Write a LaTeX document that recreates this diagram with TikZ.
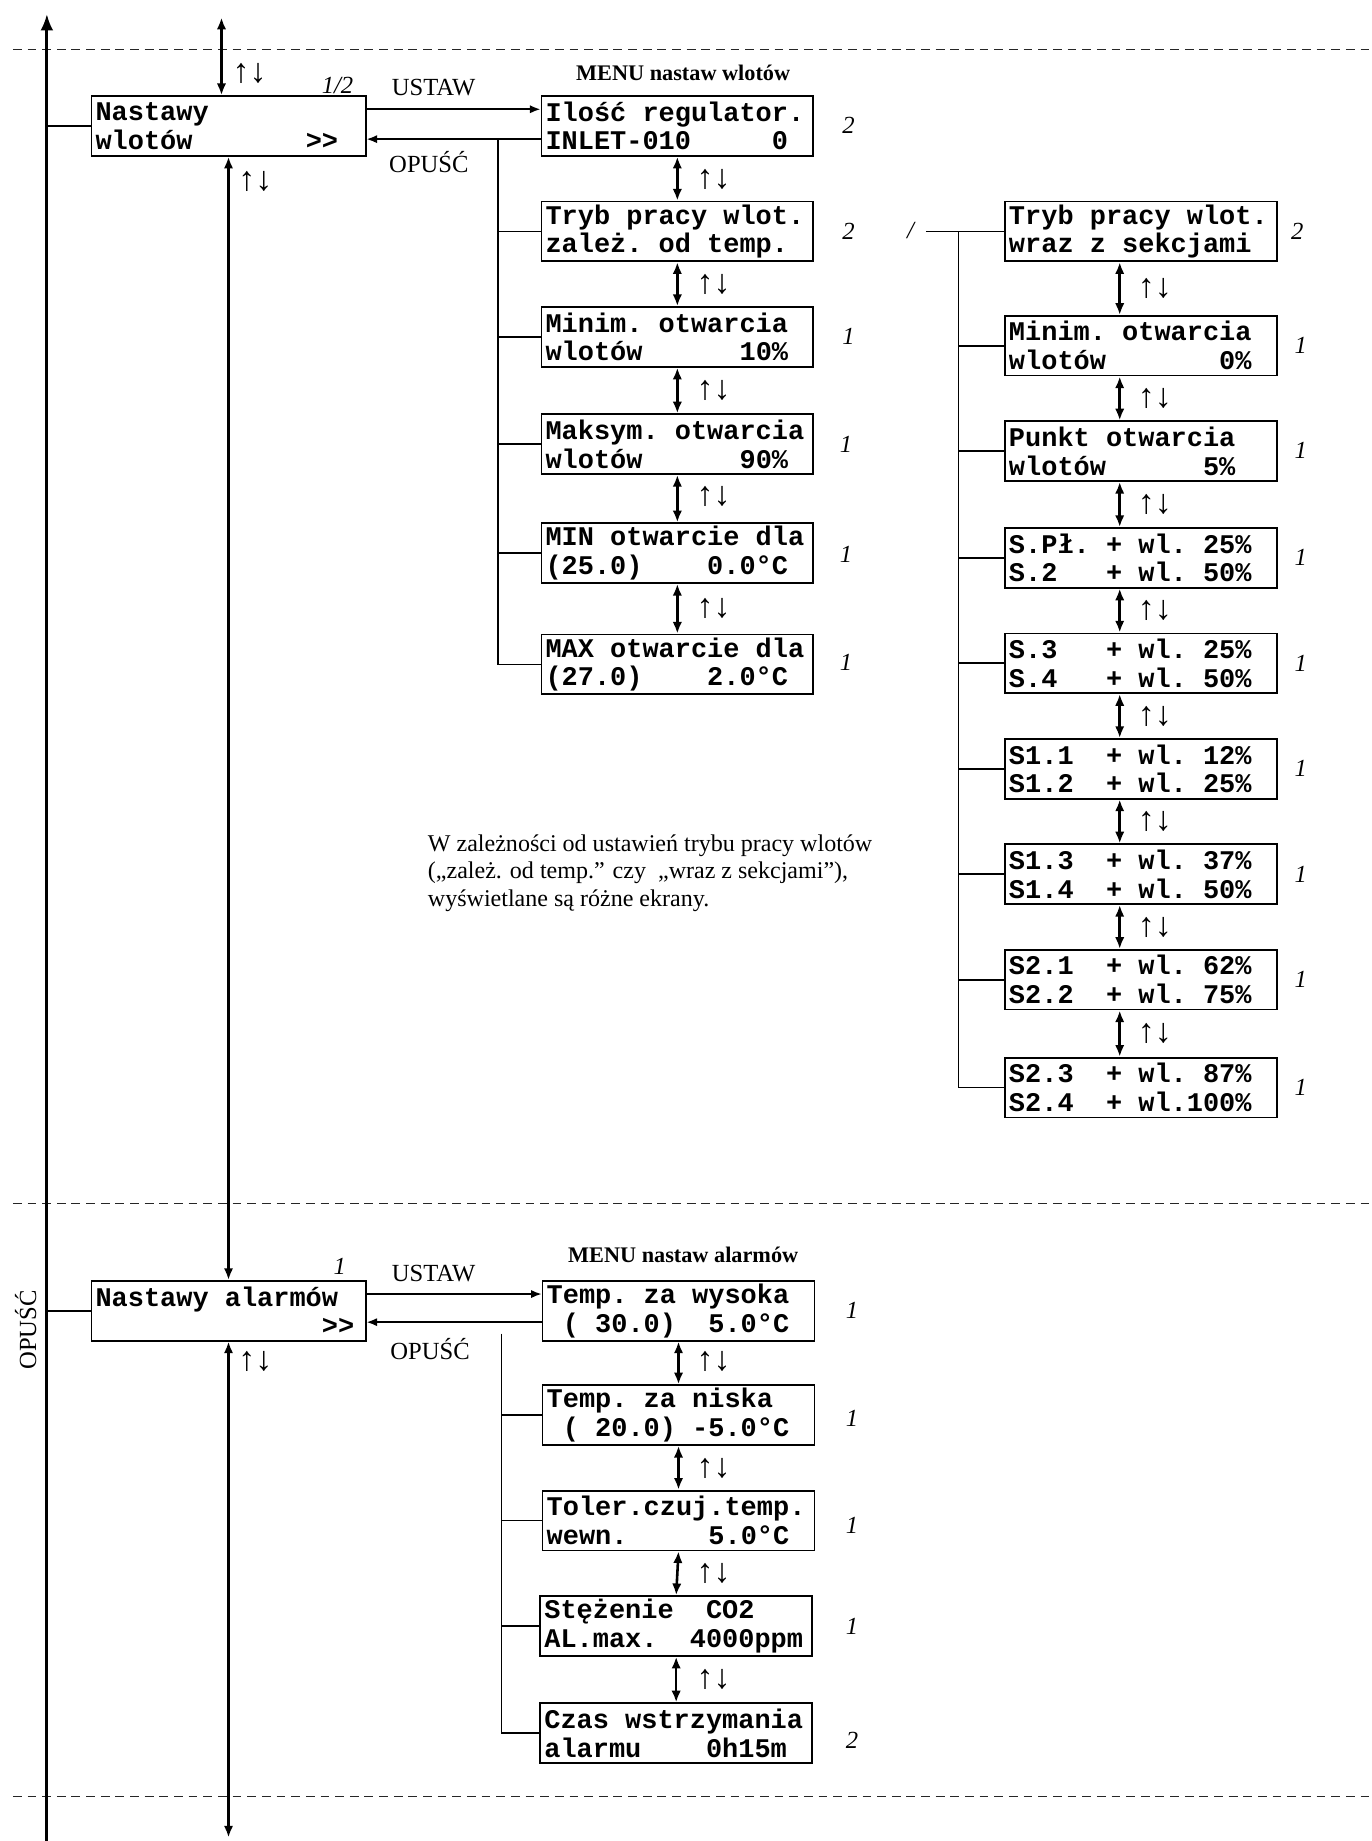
\documentclass[tikz,border=0pt]{standalone}
\usepackage{fontspec}
\setmainfont{Liberation Serif}
\newfontfamily\lcdfont{Liberation Mono}
\usetikzlibrary{arrows.meta,calc}
\newcommand{\lgap}[1]{\hspace*{\dimexpr 13.8pt*#1\relax}}
\begin{document}
\begin{tikzpicture}[x=1pt,y=-1pt,
  lcd/.style={draw,line width=1.5pt,inner xsep=3.5pt,inner ysep=0pt,text width=225pt,minimum height=51pt,align=left,font=\lcdfont\bfseries\fontsize{23}{24.5}\selectfont},
  lab/.style={inner sep=0pt,font=\fontsize{21}{24}\selectfont},
  hdr/.style={inner sep=0pt,font=\bfseries\fontsize{19}{22}\selectfont},
  num/.style={inner sep=0pt,font=\itshape\fontsize{21}{22}\selectfont},
  ud/.style={inner sep=0pt,font=\fontsize{29}{30}\selectfont},
  note/.style={inner sep=0pt,align=left,font=\fontsize{20.5}{23.5}\selectfont},
  conn/.style={line width=1.5pt},
  arr/.style={line width=1.5pt,-{Latex[length=9pt,width=7pt]}},
  dbl/.style={line width=2.2pt,{Latex[length=10pt,width=8pt]}-{Latex[length=10pt,width=8pt]}},
  mainline/.style={line width=2.4pt,-{Latex[length=14pt,width=11pt]}},
  sepline/.style={line width=1.2pt,dash pattern=on 7.5pt off 5pt,draw=black!85}
]
\useasboundingbox (0,0) rectangle (1170,1571);

% separators
\coordinate (d1a) at (11,42);   \coordinate (d1b) at (1170,42);
\coordinate (d2a) at (11,1027); \coordinate (d2b) at (1170,1027);
\coordinate (d3a) at (11,1533); \coordinate (d3b) at (1170,1533);
\draw[sepline] (d1a) -- (d1b);
\draw[sepline] (d2a) -- (d2b);
\draw[sepline] (d3a) -- (d3b);

% main vertical line
\coordinate (mbot) at (40,1571);
\coordinate (mtop) at (40,12);
\draw[mainline] (mbot) -- (mtop);
\node[lab,rotate=90] (opleft) at (22,1135) {OPUŚĆ};

% level boxes
\node[lcd,text width=227pt] (w0) at (195,107.5) {Nastawy\\wlotów\lgap{7}>>};
\node[lcd,text width=227pt] (a0) at (195,1118.5) {Nastawy\lgap{1}alarmów\\\lgap{14}>>};
\node[num] (n0) at (288,73) {1/2};
\node[num] (na0) at (290,1081) {1};

% vertical navigation at left
\coordinate (tt) at (189,15);
\draw[dbl] (tt) -- (tt |- w0.north);
\node[ud] (u0) at (213,63) {↑↓};
\draw[dbl] (w0.south) -- (a0.north);
\node[ud] (u00) at (218,155) {↑↓};
\coordinate (bb) at (195,1568);
\draw[dbl] (a0.south) -- (bb);
\node[ud] (u01) at (218,1162) {↑↓};

\draw[conn] (w0.west -| mtop) -- (w0.west);
\draw[conn] (a0.west -| mtop) -- (a0.west);

% MENU nastaw wlotow
\node[hdr] (h1) at (583,62) {MENU nastaw wlotów};
\node[lcd] (w1) at (578,107.5) {Ilość\lgap{1}regulator.\\INLET-010\lgap{5}0};
\node[lcd] (w2) at (578,197.5) {Tryb\lgap{1}pracy\lgap{1}wlot.\\zależ.\lgap{1}od\lgap{1}temp.};
\node[lcd] (w3) at (578,287.5) {Minim.\lgap{1}otwarcia\\wlotów\lgap{6}10\%};
\node[lcd] (w4) at (578,379) {Maksym.\lgap{1}otwarcia\\wlotów\lgap{6}90\%};
\node[lcd] (w5) at (578,472) {MIN\lgap{1}otwarcie\lgap{1}dla\\(25.0)\lgap{4}0.0°C};
\node[lcd] (w6) at (578,567) {MAX\lgap{1}otwarcie\lgap{1}dla\\(27.0)\lgap{4}2.0°C};

\node[lab] (ust1) at (370,75) {USTAW};
\node[lab] (opu1) at (366,138) {OPUŚĆ};
\draw[arr] ($(w0.north east)+(0,12)$) -- ($(w1.north west)+(0,12)$);
\coordinate (wo) at ($(w1.north west)+(0,37.5)$);
\draw[arr] (wo) -- (wo -| w0.east);
\coordinate (wb) at (425,0);
\draw[conn] (wo -| wb) -- (w6.west -| wb) -- (w6.west);
\foreach \i in {2,...,5} \draw[conn] (w\i.west -| wb) -- (w\i.west);

\foreach \a/\b/\y in {1/2/153,2/3/243,3/4/333,4/5/424,5/6/519} {
  \draw[dbl] (w\a.south) -- (w\b.north);
  \node[ud] (uw\a) at (609,\y) {↑↓};
}
\node[num] (nw1) at (724,107) {2};
\node[num] (nw2) at (724,197) {2};
\node[num] (nw3) at (724,287) {1};
\node[num] (nw4) at (722,379) {1};
\node[num] (nw5) at (722,473) {1};
\node[num] (nw6) at (722,565) {1};

% right column
\node[lcd] (r1) at (973.5,197.5) {Tryb\lgap{1}pracy\lgap{1}wlot.\\wraz\lgap{1}z\lgap{1}sekcjami};
\node[lcd] (r2) at (973.5,295) {Minim.\lgap{1}otwarcia\\wlotów\lgap{7}0\%};
\node[lcd] (r3) at (973.5,385) {Punkt\lgap{1}otwarcia\\wlotów\lgap{6}5\%};
\node[lcd] (r4) at (973.5,476) {S.Pł.\lgap{1}+\lgap{1}wl.\lgap{1}25\%\\S.2\lgap{3}+\lgap{1}wl.\lgap{1}50\%};
\node[lcd] (r5) at (973.5,566) {S.3\lgap{3}+\lgap{1}wl.\lgap{1}25\%\\S.4\lgap{3}+\lgap{1}wl.\lgap{1}50\%};
\node[lcd] (r6) at (973.5,656) {S1.1\lgap{2}+\lgap{1}wl.\lgap{1}12\%\\S1.2\lgap{2}+\lgap{1}wl.\lgap{1}25\%};
\node[lcd] (r7) at (973.5,746) {S1.3\lgap{2}+\lgap{1}wl.\lgap{1}37\%\\S1.4\lgap{2}+\lgap{1}wl.\lgap{1}50\%};
\node[lcd] (r8) at (973.5,836) {S2.1\lgap{2}+\lgap{1}wl.\lgap{1}62\%\\S2.2\lgap{2}+\lgap{1}wl.\lgap{1}75\%};
\node[lcd] (r9) at (973.5,928) {S2.3\lgap{2}+\lgap{1}wl.\lgap{1}87\%\\S2.4\lgap{2}+\lgap{1}wl.100\%};

\node[num] (slash) at (777,197) {/};
\coordinate (rs) at (790,0);
\coordinate (rb) at (818,0);
\draw[conn] (r1.west -| rs) -- (r1.west);
\draw[conn] (r1.west -| rb) -- (r9.west -| rb) -- (r9.west);
\foreach \i in {2,...,8} \draw[conn] (r\i.west -| rb) -- (r\i.west);

\foreach \a/\b in {1/2,2/3,3/4,4/5,5/6,6/7,7/8,8/9} {
  \draw[dbl] ($(r\a.south)+(-18,0)$) -- ($(r\b.north)+(-18,0)$);
  \node[ud] (ur\a) at ($(r\a.south)!0.5!(r\b.north)+(12,0)$) {↑↓};
}
\node[num] (nr1) at (1107,197) {2};
\foreach \i/\y in {2/295,3/384,4/476,5/566,6/656,7/746,8/836,9/928}
  \node[num] (nr\i) at (1110,\y) {1};

% note
\node[note,anchor=north west] (txt) at (365,712) {W zależności od ustawień trybu pracy wlotów\\(„zależ. od temp.” czy\ \ „wraz z sekcjami”),\\wyświetlane są różne ekrany.};

% MENU nastaw alarmow
\node[hdr] (h2) at (583,1071) {MENU nastaw alarmów};
\node[lcd] (a1) at (579,1118.5) {Temp.\lgap{1}za\lgap{1}wysoka\\\lgap{1}(\lgap{1}30.0)\lgap{2}5.0°C};
\node[lcd] (a2) at (579,1207.5) {Temp.\lgap{1}za\lgap{1}niska\\\lgap{1}(\lgap{1}20.0)\lgap{1}-5.0°C};
\node[lcd] (a3) at (579,1297.5) {Toler.czuj.temp.\\wewn.\lgap{5}5.0°C};
\node[lcd] (a4) at (577,1387.5) {Stężenie\lgap{2}CO2\\AL.max.\lgap{2}4000ppm};
\node[lcd] (a5) at (577,1479) {Czas\lgap{1}wstrzymania\\alarmu\lgap{4}0h15m};

\node[lab] (ust2) at (370,1087) {USTAW};
\node[lab] (opu2) at (367,1151) {OPUŚĆ};
\draw[arr] ($(a0.north east)+(0,12)$) -- ($(a1.north west)+(0,12)$);
\coordinate (ao) at ($(a1.north west)+(0,36)$);
\draw[arr] (ao) -- (ao -| a0.east);
\coordinate (ab) at (428,1138);
\draw[conn] (ab) -- (a5.west -| ab) -- (a5.west);
\foreach \i in {2,...,4} \draw[conn] (a\i.west -| ab) -- (a\i.west);

\foreach \a/\b/\y in {1/2/1162,2/3/1253,3/4/1343,4/5/1433} {
  \draw[dbl] (a\a.south) -- (a\b.north);
  \node[ud] (ua\a) at (609,\y) {↑↓};
}
\node[num] (na1) at (727,1118) {1};
\node[num] (na2) at (727,1210) {1};
\node[num] (na3) at (727,1302) {1};
\node[num] (na4) at (727,1388) {1};
\node[num] (na5) at (727,1485) {2};
\end{tikzpicture}
\end{document}
